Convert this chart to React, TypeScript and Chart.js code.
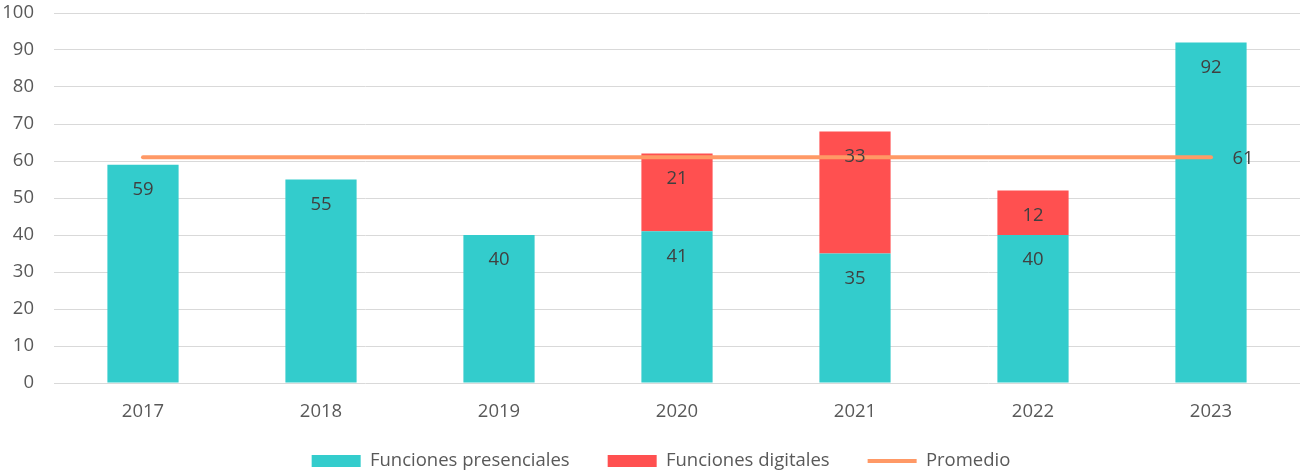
import React, { useEffect, useRef } from 'react';
import { Chart, registerables } from 'chart.js';

Chart.register(...registerables);

const years = ['2017', '2018', '2019', '2020', '2021', '2022', '2023'];
const funcionesPresenciales = [59, 55, 40, 41, 35, 40, 92];
const funcionesDigitales = [null, null, null, 21, 33, 12, null];
const promedio = [61, 61, 61, 61, 61, 61, 61];
const yMin = 0;
const yMax = 100;
const yStep = 10;

const FONT_FAMILY = '"Open Sans", sans-serif';
const FONT_SIZE = 18.5;

const valueLabels = {
  id: 'valueLabels',
  afterDatasetsDraw(chart: any) {
    const ctx = chart.ctx;
    ctx.save();
    ctx.font = `${FONT_SIZE}px ${FONT_FAMILY}`;
    ctx.fillStyle = '#404040';
    ctx.textAlign = 'center';
    ctx.textBaseline = 'middle';
    chart.data.datasets.forEach((ds: any, di: number) => {
      const meta = chart.getDatasetMeta(di);
      if (meta.type === 'bar') {
        meta.data.forEach((el: any, i: number) => {
          const v = ds.data[i];
          if (v == null) return;
          ctx.fillText(String(v), el.x, el.y + 25);
        });
      } else if (meta.type === 'line') {
        const last = meta.data.length - 1;
        const el = meta.data[last];
        ctx.fillText(String(ds.data[last]), el.x + 32, el.y + 1);
      }
    });
    ctx.restore();
  },
};

// place the legend like the reference (slightly right of centre, lower)
const legendPlacement = {
  id: 'legendPlacement',
  afterLayout(chart: any) {
    const lg = chart.legend;
    if (!lg) return;
    const h = lg.height;
    lg.left = 22;
    lg.top = 413.75;
    lg.bottom = lg.top + h;
  },
};

export default function App() {
  const canvasRef = useRef<HTMLCanvasElement | null>(null);

  useEffect(() => {
    document.body.style.margin = '0';
    const canvas = canvasRef.current;
    if (!canvas) return;
    const font = { family: FONT_FAMILY, size: FONT_SIZE };
    const chart = new Chart(canvas, {
      type: 'bar',
      data: {
        labels: years,
        datasets: [
          {
            type: 'bar',
            label: 'Funciones presenciales',
            data: funcionesPresenciales,
            backgroundColor: '#33CCCC',
            borderWidth: 0,
            stack: 'funciones',
            barPercentage: 0.4,
            categoryPercentage: 1,
            order: 1,
          },
          {
            type: 'bar',
            label: 'Funciones digitales',
            data: funcionesDigitales,
            backgroundColor: '#FF5050',
            borderWidth: 0,
            stack: 'funciones',
            barPercentage: 0.4,
            categoryPercentage: 1,
            order: 1,
          },
          {
            type: 'line',
            label: 'Promedio',
            data: promedio,
            borderColor: '#FF9966',
            backgroundColor: '#FF9966',
            borderWidth: 4,
            borderCapStyle: 'round',
            pointRadius: 0,
            stack: 'promedio',
            order: 0,
          },
        ] as any,
      },
      options: {
        responsive: false,
        maintainAspectRatio: false,
        animation: false,
        layout: { padding: { left: 0, right: 0, top: 13, bottom: -15.5 } },
        plugins: {
          tooltip: { enabled: false },
          legend: {
            position: 'bottom',
            labels: {
              usePointStyle: true,
              pointStyleWidth: 49,
              boxHeight: 12,
              padding: 38,
              color: '#595959',
              font,
              sort: (a: any, b: any) => a.datasetIndex - b.datasetIndex,
              generateLabels: (c: any) => {
                const items = (Chart.defaults.plugins.legend.labels as any).generateLabels(c);
                items.forEach((it: any) => {
                  it.pointStyle = it.datasetIndex === 2 ? 'line' : 'rect';
                  if (it.datasetIndex !== 2) it.lineWidth = 0;
                });
                return items;
              },
            },
          },
        },
        scales: {
          x: {
            stacked: true,
            grid: { display: false },
            border: { display: false },
            ticks: { color: '#595959', font, padding: 10 },
            afterFit: (s: any) => {
              s.height = 40;
            },
          },
          y: {
            stacked: true,
            min: yMin,
            max: yMax,
            ticks: { stepSize: yStep, color: '#595959', font, padding: 0 },
            grid: {
              color: '#D9D9D9',
              lineWidth: 1,
              drawTicks: true,
              tickLength: 20,
              tickColor: 'rgba(0,0,0,0)',
            },
            border: { display: false },
            afterFit: (s: any) => {
              s.width = 54;
            },
          },
        },
      } as any,
      plugins: [valueLabels, legendPlacement],
    });
    return () => chart.destroy();
  }, []);

  return (
    <div style={{ width: 1300, height: 474 }}>
      <canvas ref={canvasRef} width={1300} height={474} />
    </div>
  );
}
